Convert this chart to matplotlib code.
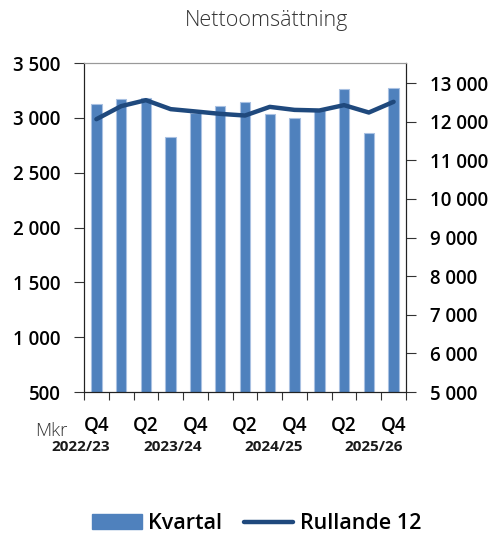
import numpy as np
import matplotlib.pyplot as plt
from matplotlib.patches import Patch
from matplotlib.lines import Line2D
from matplotlib.ticker import FuncFormatter
import matplotlib.transforms as mtransforms

plt.rcParams['font.family'] = ['Open Sans', 'DejaVu Sans']
plt.rcParams['font.weight'] = 600

# Quarterly net sales (Mkr) and rolling 12 months
quarters = ['Q4', 'Q1', 'Q2', 'Q3', 'Q4', 'Q1', 'Q2', 'Q3', 'Q4', 'Q1', 'Q2', 'Q3', 'Q4']
kvartal = [3130, 3173, 3182, 2827, 3045, 3109, 3145, 3039, 3000, 3082, 3266, 2860, 3273]
rullande = [12065, 12403, 12558, 12325, 12265, 12203, 12160, 12384, 12306, 12290, 12429, 12238, 12515]
years = ['2022/23', '2023/24', '2024/25', '2025/26']
year_pos = [-0.62, 3.09, 7.17, 11.21]

bar_color = '#4F81BD'
line_color = '#1F497D'

fig = plt.figure(figsize=(4.93, 5.33), dpi=100)
ax = fig.add_axes([0.1704, 0.2645, 0.6531, 0.6173])
ax2 = ax.twinx()

x = np.arange(len(kvartal))
ax.bar(x, kvartal, width=0.42, color=bar_color, edgecolor='#A9C1E2', linewidth=0.8, zorder=2)
ax2.plot(x, rullande, color=line_color, linewidth=3.2, solid_capstyle='round', zorder=3)

ax.set_xlim(-0.5, len(kvartal) - 0.5)
ax.set_ylim(500, 3500)
ax.set_yticks(np.arange(500, 3501, 500))
ax2.set_ylim(5000, 13520)
ax2.set_yticks(np.arange(5000, 13001, 1000))

fmt = FuncFormatter(lambda v, p: f'{int(v):,}'.replace(',', ' '))
ax.yaxis.set_major_formatter(fmt)
ax2.yaxis.set_major_formatter(fmt)

# x ticks: labels every other quarter, tick marks at boundaries
ax.set_xticks(x[::2])
ax.set_xticklabels(quarters[::2])
ax.set_xticks(np.arange(-0.5, len(kvartal)), minor=True)
ax.tick_params(axis='x', which='major', length=0, pad=17, labelsize=13.5)
ax.tick_params(axis='x', which='minor', length=6, width=0.8, color='#333333', direction='out')

ax.tick_params(axis='y', length=7, width=0.8, color='#333333', pad=10, labelsize=13.5)
ax2.tick_params(axis='y', length=7, width=0.8, color='#333333', pad=10, labelsize=13.5)

for a in (ax, ax2):
    a.spines['top'].set_color('#999999')
    a.spines['left'].set_color('#222222')
    a.spines['right'].set_color('#222222')
    a.spines['bottom'].set_color('#222222')
    for s in a.spines.values():
        s.set_linewidth(0.8)

trans = mtransforms.blended_transform_factory(ax.transData, ax.transAxes)
for yr, xp in zip(years, year_pos):
    ax.text(xp, -0.167, yr, transform=trans, ha='center', va='center',
            fontsize=11, fontweight='bold', color='#1a1a1a')

fig.text(0.105, 0.191, 'Mkr', ha='center', va='center', fontsize=13.5,
         fontweight=300, color='#333333')
fig.text(0.54, 0.962, 'Nettoomsättning', ha='center', va='center', fontsize=15.5,
         fontweight=300, color='#333333')

handles = [Patch(facecolor=bar_color, edgecolor=bar_color),
           Line2D([0], [0], color=line_color, linewidth=3.2, solid_capstyle='round')]
fig.legend(handles, ['Kvartal', 'Rullande 12'], loc='center', bbox_to_anchor=(0.521, 0.017),
           ncol=2, frameon=False, fontsize=15.5, handlelength=2.3, handleheight=0.7,
           handletextpad=0.3, columnspacing=1.0)

fig.savefig('out.png', dpi=100)
